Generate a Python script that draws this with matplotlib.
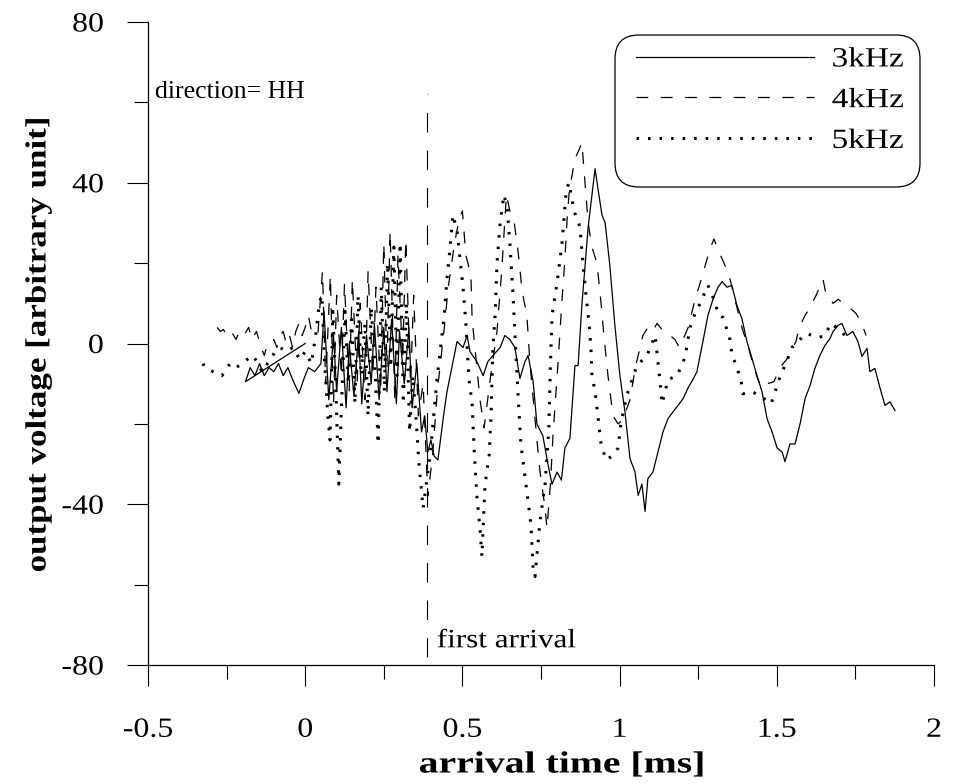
import matplotlib
matplotlib.use('Agg')
import matplotlib.pyplot as plt
from matplotlib.patches import FancyBboxPatch
from matplotlib.patheffects import AbstractPathEffect
from matplotlib.transforms import Affine2D, IdentityTransform

plt.rcParams['font.family'] = ['Liberation Serif', 'DejaVu Serif']
plt.rcParams['lines.scale_dashes'] = False

# --- data (time [ms], voltage) ---
t_3k = [0.00, -0.19, -0.175, -0.16, -0.145, -0.13, -0.115, -0.10, -0.085, -0.07, -0.055, -0.04, -0.02, -0.005,
        0.01, 0.03, 0.05, 0.06, 0.075, 0.09, 0.10, 0.115, 0.13, 0.14, 0.155, 0.17, 0.18, 0.195, 0.21, 0.22,
        0.235, 0.25, 0.26, 0.275, 0.29, 0.30, 0.315, 0.33, 0.34, 0.355, 0.37, 0.38, 0.39, 0.40, 0.41, 0.422,
        0.44, 0.451, 0.47, 0.483, 0.502, 0.515, 0.524, 0.546, 0.566, 0.581, 0.597, 0.620, 0.635, 0.651, 0.667,
        0.683, 0.699, 0.709, 0.725, 0.737, 0.756, 0.772, 0.785, 0.801, 0.815, 0.826, 0.842, 0.858, 0.868,
        0.880, 0.890, 0.900, 0.912, 0.922, 0.931, 0.944, 0.954, 0.969, 0.985, 1.001, 1.017, 1.033, 1.049,
        1.059, 1.071, 1.081, 1.090, 1.106, 1.122, 1.138, 1.154, 1.170, 1.186, 1.202, 1.218, 1.233, 1.246,
        1.265, 1.281, 1.297, 1.313, 1.326, 1.342, 1.357, 1.373, 1.389, 1.405, 1.421, 1.437, 1.453, 1.469,
        1.485, 1.501, 1.517, 1.526, 1.542, 1.558, 1.574, 1.590, 1.606, 1.621, 1.637, 1.653, 1.669, 1.679,
        1.695, 1.707, 1.723, 1.742, 1.758, 1.771, 1.787, 1.796, 1.812, 1.828, 1.844, 1.860, 1.876]
v_3k = [0, -9.5, -6, -8, -5, -8, -6, -7, -5, -8, -6, -9, -12.4, -9,
        -6, -7, -5, 8, -14, 2, -12, 4, -16, 0, -13, 3, -15, 2, -10, 5,
        -14, 4, -12, 6, -15, 3, -10, 4, -16, -5, -22, -18, -27, -24, -28, -29,
        -18, -12, -4.5, 0.5, -1, 2, -2, -4.5, -8, -4.5, -3, -1, 2, 1, -1,
        -8.7, -4.5, -3, -9.5, -20, -23, -30, -35, -32, -34, -26, -23.6, -5.5, -5.5,
        9.5, 19.4, 29, 37, 43.5, 38.6, 32, 30, 19.4, 4.5, -8, -17, -28.6, -32,
        -37.8, -35, -41.8, -33.6, -32, -27, -22, -18.7, -17, -15.4, -13.7, -11, -9, -7,
        0.5, 7, 11, 14, 15.4, 14, 14.5, 9.5, 6.2, 0.5, -3.7, -8, -12, -18.7,
        -22, -26, -27, -29.4, -25, -25, -20, -13.7, -10.4, -6.2, -3, -0.5, 1.2, 3,
        4.5, 5, 2, 3, 0.5, -3.2, -1.2, -7, -6.2, -11, -15.4, -14.5, -16.7]

t_4k = [-0.28, -0.27, -0.26, -0.25, -0.235, -0.22, -0.21, -0.195, -0.18, -0.17, -0.155, -0.14, -0.13, -0.12,
        -0.10, -0.09, -0.08, -0.07, -0.06, -0.05, -0.04, -0.03, -0.02, -0.01, 0.0, 0.01, 0.02, 0.04,
        0.055, 0.065, 0.08, 0.09, 0.10, 0.115, 0.125, 0.14, 0.15, 0.165, 0.175, 0.19, 0.20, 0.215,
        0.225, 0.24, 0.25, 0.26, 0.27, 0.285, 0.295, 0.31, 0.32, 0.335, 0.345, 0.36, 0.375, 0.39,
        0.405, 0.42, 0.44, 0.455, 0.475, 0.49, 0.50, 0.511, 0.527, 0.531, 0.556, 0.569, 0.59, 0.61,
        0.625, 0.64, 0.651, 0.665, 0.677, 0.69, 0.705, 0.715, 0.737, 0.747, 0.763, 0.769, 0.78, 0.788,
        0.795, 0.804, 0.817, 0.826, 0.833, 0.840, 0.858, 0.870, 0.880, 0.89, 0.90, 0.912, 0.928, 0.941,
        0.950, 0.963, 0.979, 0.995, 1.01, 1.033, 1.05, 1.074, 1.09, 1.105, 1.119, 1.14, 1.16, 1.176,
        1.19, 1.202, 1.218, 1.24, 1.26, 1.278, 1.29, 1.30, 1.315, 1.332, 1.348, 1.37, 1.389, 1.41,
        1.424, 1.44, 1.453, 1.47, 1.491, 1.51, 1.536, 1.561, 1.571, 1.59, 1.606, 1.625, 1.647, 1.657,
        1.67, 1.679, 1.695, 1.711, 1.73, 1.752, 1.77, 1.784]
v_4k = [4, 3, 3.5, 2, 3, 1, 3, 2, 4, 1, 3, -1, -3, 0,
        1, -1, 2, 3, 0, 2, -1, 3, 5, 2, 4, 7, 3, 2,
        18, -10, 17, -15, 12, -8, 15, -12, 16, -10, 10, -14, 18, -8,
        14, -12, 25, -6, 28, -14, 22, -4, 26, -10, 12, -18, -10, -38,
        -28, -12, 2, 14, 25, 31, 33, 22, 17, 6, -14, -21, -8, 3,
        18, 37, 33, 30, 23, 13, 7, -5, -24, -32, -41, -46, -35, -23,
        -15, -5, 11, 21, 31, 38, 46, 48, 50, 40, 30, 24, 20, 10,
        2, -8, -18, -20, -19, -14, -6, 2, 4, 3, 5, 3, 2, 1,
        -1, 1, 4, 11, 16, 21, 24, 26, 23, 20, 17, 10, 4, -1,
        -5, -9, -11, -10, -9.5, -6, -3.5, 0.5, 4, 7, 9, 12, 16, 12,
        11, 10, 11, 10, 9, 7.5, 5, 2]

t_5k = [-0.325, -0.319, -0.293, -0.265, -0.239, -0.22, -0.201, -0.185, -0.166, -0.15, -0.137, -0.112,
        -0.095, -0.080, -0.06, -0.039, -0.017, 0.0, 0.02, 0.035, 0.045, 0.053, 0.062, 0.072, 0.079,
        0.088, 0.097, 0.107, 0.117, 0.127, 0.137, 0.148, 0.158, 0.168, 0.178, 0.19, 0.20, 0.21, 0.222,
        0.232, 0.242, 0.252, 0.262, 0.272, 0.282, 0.292, 0.302, 0.312, 0.322, 0.332, 0.342, 0.352,
        0.362, 0.375, 0.385, 0.397, 0.419, 0.441, 0.451, 0.461, 0.470, 0.483, 0.502, 0.511, 0.521,
        0.531, 0.537, 0.546, 0.556, 0.562, 0.572, 0.585, 0.591, 0.594, 0.597, 0.604, 0.610, 0.620,
        0.632, 0.642, 0.651, 0.661, 0.677, 0.686, 0.705, 0.718, 0.725, 0.731, 0.747, 0.763, 0.775,
        0.779, 0.785, 0.801, 0.817, 0.830, 0.839, 0.855, 0.874, 0.880, 0.893, 0.903, 0.909, 0.912,
        0.922, 0.931, 0.941, 0.957, 0.976, 0.995, 1.004, 1.014, 1.027, 1.055, 1.087, 1.113, 1.128,
        1.135, 1.154, 1.183, 1.208, 1.224, 1.240, 1.256, 1.281, 1.297, 1.316, 1.329, 1.351, 1.357,
        1.386, 1.392, 1.421, 1.447, 1.482, 1.507, 1.536, 1.548, 1.574, 1.593, 1.634, 1.653, 1.672,
        1.695, 1.717]
v_5k = [-5, -6, -7, -8, -5, -6, -5, -4, -3, -5, -7, -4,
        -2, -1, -2, -1, -4, -2, -5, 3, 10, 12, -5, -18, -24,
        8, -10, -35, -12, 8, -10, 6, -15, 12, -8, 5, -18, 9, -6,
        -25, 14, -12, 20, -6, 24, -8, 25, -15, 10, -22, -8, -18,
        -30, -41, -35, -28, -9, 6, 16, 24, 32, 28, 14, 5, -9,
        -15, -26, -38, -46, -53, -35, -28, -18, -9, -1, 7, 20, 30,
        37, 34, 25, 12, -13, -25, -37, -45, -56, -58, -44, -35, -21,
        -8, 7, 15, 25, 38, 40, 33, 29, 23, 12, 5, -1.5, -8,
        -12, -18, -25, -29, -28, -26, -20, -16, -12, -5.5, -3, 2, -9,
        -15, -9, -8, -3.5, 4, 7.5, 10, 14.5, 11.5, 7, 6.5, 1, -2.5,
        -9, -12.5, -12, -13, -15, -9, -3.5, -1, 1, 2.5, 1.5, 2, 5,
        3.7, 2]

series_labels = ['3kHz', '4kHz', '5kHz']
x_ticks = [-0.5, 0, 0.5, 1, 1.5, 2]
x_ticklabels = ['-0.5', '0', '0.5', '1', '1.5', '2']
x_minor = [-0.25, 0.25, 0.75, 1.25, 1.75]
y_ticks = [-80, -40, 0, 40, 80]
y_ticklabels = ['-80', '-40', '0', '40', '80']
y_minor = [-60, -20, 20, 60]

arrival_t = 0.387          # "first arrival" marker
arrival_span = (-78, 62)


class Stretch(AbstractPathEffect):
    """widen glyphs along the text direction (the scan uses a wide Times)"""
    def __init__(self, sx, anchor='center'):
        super().__init__()
        self.sx = sx
        self.anchor = anchor

    def draw_path(self, renderer, gc, tpath, affine, rgbFace=None):
        ext = tpath.get_extents()
        cx = {'left': ext.x0, 'right': ext.x1}.get(self.anchor, (ext.x0 + ext.x1) / 2)
        tr = Affine2D().translate(-cx, 0).scale(self.sx, 1).translate(cx, 0) + affine
        renderer.draw_path(gc, tpath, tr, rgbFace)


fig = plt.figure(figsize=(9.64, 7.84), dpi=100)
ax = fig.add_axes([148 / 964, 119 / 784, 786 / 964, 643 / 784])

ax.plot(t_3k, v_3k, color='black', lw=0.9, label=series_labels[0])
ax.plot(t_4k, v_4k, color='black', lw=0.9, dashes=(8.5, 9), label=series_labels[1])
ax.plot(t_5k, v_5k, color='black', lw=2.2, dashes=(1.8, 6.5), label=series_labels[2])

ax.vlines(arrival_t, arrival_span[0], arrival_span[1], colors='black', lw=0.8,
          linestyles=(0, (14, 13)))

ax.text(-0.478, 62.7, 'direction= HH', va='center', ha='left', fontsize=18.5)
ax.text(arrival_t + 0.032, -74.1, 'first arrival', va='center', ha='left', fontsize=19,
        path_effects=[Stretch(1.18, 'left')])

ax.set_xlim(-0.5, 2)
ax.set_ylim(-80, 80)
ax.spines[['top', 'right']].set_visible(False)
for s in ['left', 'bottom']:
    ax.spines[s].set_linewidth(0.9)

ax.set_xticks(x_ticks)
ax.set_xticklabels(x_ticklabels)
ax.set_xticks(x_minor, minor=True)
ax.set_yticks(y_ticks)
ax.set_yticklabels(y_ticklabels)
ax.set_yticks(y_minor, minor=True)
ax.tick_params(which='major', direction='out', length=15, width=0.8, labelsize=20)
ax.tick_params(which='minor', direction='out', length=10, width=0.8)
ax.tick_params(axis='x', which='major', pad=23)
ax.tick_params(axis='y', which='major', pad=17)
for lbl in ax.get_xticklabels():
    lbl.set_path_effects([Stretch(1.15, 'center')])
for lbl in ax.get_yticklabels():
    lbl.set_path_effects([Stretch(1.15, 'right')])

fig.text(562 / 964, (784 - 765) / 784, 'arrival time [ms]', ha='center', va='center',
         fontsize=22, fontweight='bold', path_effects=[Stretch(1.3, 'center')])
fig.text(38 / 964, (784 - 345) / 784, 'output voltage [arbitrary unit]', ha='center', va='center',
         rotation=90, fontsize=21, fontweight='bold', path_effects=[Stretch(1.2, 'center')])

# legend: entries without frame, rounded box drawn separately (pixel units)
leg = ax.legend(loc='upper left', bbox_to_anchor=((636 - 148) / 786, (665 - 47) / 643),
                borderaxespad=0, borderpad=0, fontsize=20, handlelength=6.4,
                handletextpad=0.65, labelspacing=0.55, frameon=False)
for txt in leg.get_texts():
    txt.set_path_effects([Stretch(1.2, 'left')])
leg.set_zorder(6)

box = FancyBboxPatch((615, 784 - 187), 305, 152, boxstyle='round,pad=0,rounding_size=24',
                     transform=IdentityTransform(), facecolor='white', edgecolor='black',
                     linewidth=0.9, zorder=5, clip_on=False)
ax.add_patch(box)

fig.savefig('out.png', dpi=100)
